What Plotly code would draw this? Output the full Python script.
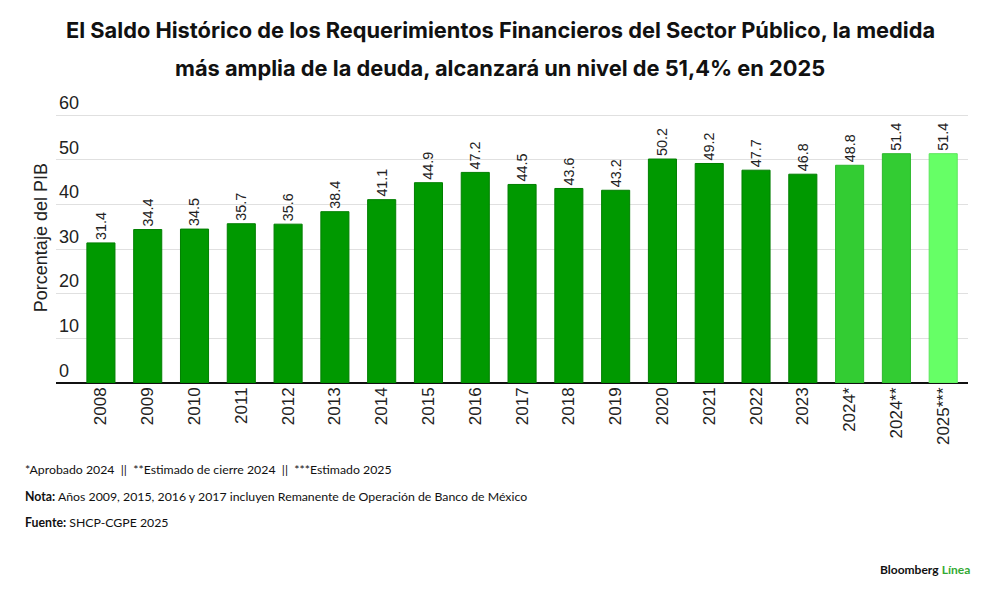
import plotly.graph_objects as go

categories = ["2008", "2009", "2010", "2011", "2012", "2013", "2014", "2015", "2016",
              "2017", "2018", "2019", "2020", "2021", "2022", "2023", "2024*", "2024**", "2025***"]
values = [31.4, 34.4, 34.5, 35.7, 35.6, 38.4, 41.1, 44.9, 47.2,
          44.5, 43.6, 43.2, 50.2, 49.2, 47.7, 46.8, 48.8, 51.4, 51.4]
bar_colors = ["#009900"] * 16 + ["#33CC33", "#33CC33", "#66FF66"]
line_colors = ["#007f00"] * 16 + ["#2db82d", "#2db82d", "#5ee65e"]
y_ticks = [0, 10, 20, 30, 40, 50, 60]

title_lines = ["El Saldo Histórico de los Requerimientos Financieros del Sector Público, la medida",
               "más amplia de la deuda, alcanzará un nivel de 51,4% en 2025"]
notes = ["*Aprobado 2024  ||  **Estimado de cierre 2024  ||  ***Estimado 2025",
         "<b>Nota:</b> Años 2009, 2015, 2016 y 2017 incluyen Remanente de Operación de Banco de México",
         "<b>Fuente:</b> SHCP-CGPE 2025"]

FONT = "Inter"
NOTE_FONT = "Lato"
SANS = "Liberation Sans, Arial"

# page has an 8px body margin; figure coords = page coords - 8
OFF = 8
W, H = 1000 - OFF, 596 - OFF
YMAX = 65
zero_px, sixty_px = 383 - OFF, 115 - OFF
px_per_unit = (zero_px - sixty_px) / 60
left, right = 56 - OFF, 1000 - 968
bottom = H - zero_px
top = zero_px - YMAX * px_per_unit
plot_h = H - top - bottom
plot_w = W - left - right


def py(ypage):
    return (H - bottom - (ypage - OFF)) / plot_h


def px(xpage):
    return ((xpage - OFF) - left) / plot_w


fig = go.Figure()
fig.add_trace(go.Bar(
    x=categories, y=values,
    marker=dict(color=bar_colors, line=dict(color=line_colors, width=1)),
    width=0.6,
    text=[f"{v:.1f}" for v in values],
    textposition="outside",
    textangle=-90,
    textfont=dict(family=SANS, size=16, color="#222222"),
    cliponaxis=False,
    hoverinfo="skip",
))

fig.update_layout(
    width=W, height=H,
    margin=dict(l=left, r=right, t=top, b=bottom, autoexpand=False),
    paper_bgcolor="white", plot_bgcolor="white",
    showlegend=False,
    font=dict(family=SANS, color="#222222"),
)
fig.update_xaxes(
    type="category",
    range=[-0.96, 18.53],
    tickangle=-90,
    tickfont=dict(family=SANS, size=17, color="#222222"),
    showgrid=False, showline=False, zeroline=False, ticks="",
    automargin=False,
)
fig.update_yaxes(
    range=[0, YMAX],
    tickvals=y_ticks,
    ticktext=[str(t) for t in y_ticks],
    ticklabelposition="inside top",
    tickfont=dict(family=SANS, size=18, color="#222222"),
    showgrid=True, gridcolor="#e0e0e0", gridwidth=1,
    zeroline=True, zerolinecolor="#111111", zerolinewidth=2,
    showline=False, ticks="",
    automargin=False,
)

annotations = []
for i, line in enumerate(title_lines):
    annotations.append(dict(
        text=f"<b>{line}</b>", xref="paper", yref="paper",
        x=px(500), xanchor="center", y=py(30 + 38 * i),
        yanchor="middle", showarrow=False,
        font=dict(family=FONT, size=21.8, color="#111111"),
    ))
annotations.append(dict(
    text="Porcentaje del PIB", textangle=-90,
    xref="paper", yref="paper", x=px(41), xanchor="center",
    y=py(238), yanchor="middle", showarrow=False,
    font=dict(family=SANS, size=18, color="#222222"),
))
for i, n in enumerate(notes):
    annotations.append(dict(
        text=n, xref="paper", yref="paper",
        x=px(23), xanchor="left",
        y=py(470 + 26.5 * i), yanchor="middle",
        showarrow=False,
        font=dict(family=NOTE_FONT, size=12.3, color="#111111"),
    ))
annotations.append(dict(
    text="<b>Bloomberg</b> <b><span style='color:#33aa33'>Línea</span></b>",
    xref="paper", yref="paper", x=px(972), xanchor="right",
    y=py(570), yanchor="middle", showarrow=False,
    font=dict(family="Lato", size=12, color="#111111"),
))
fig.update_layout(annotations=annotations)

fig.write_html("out.html")
